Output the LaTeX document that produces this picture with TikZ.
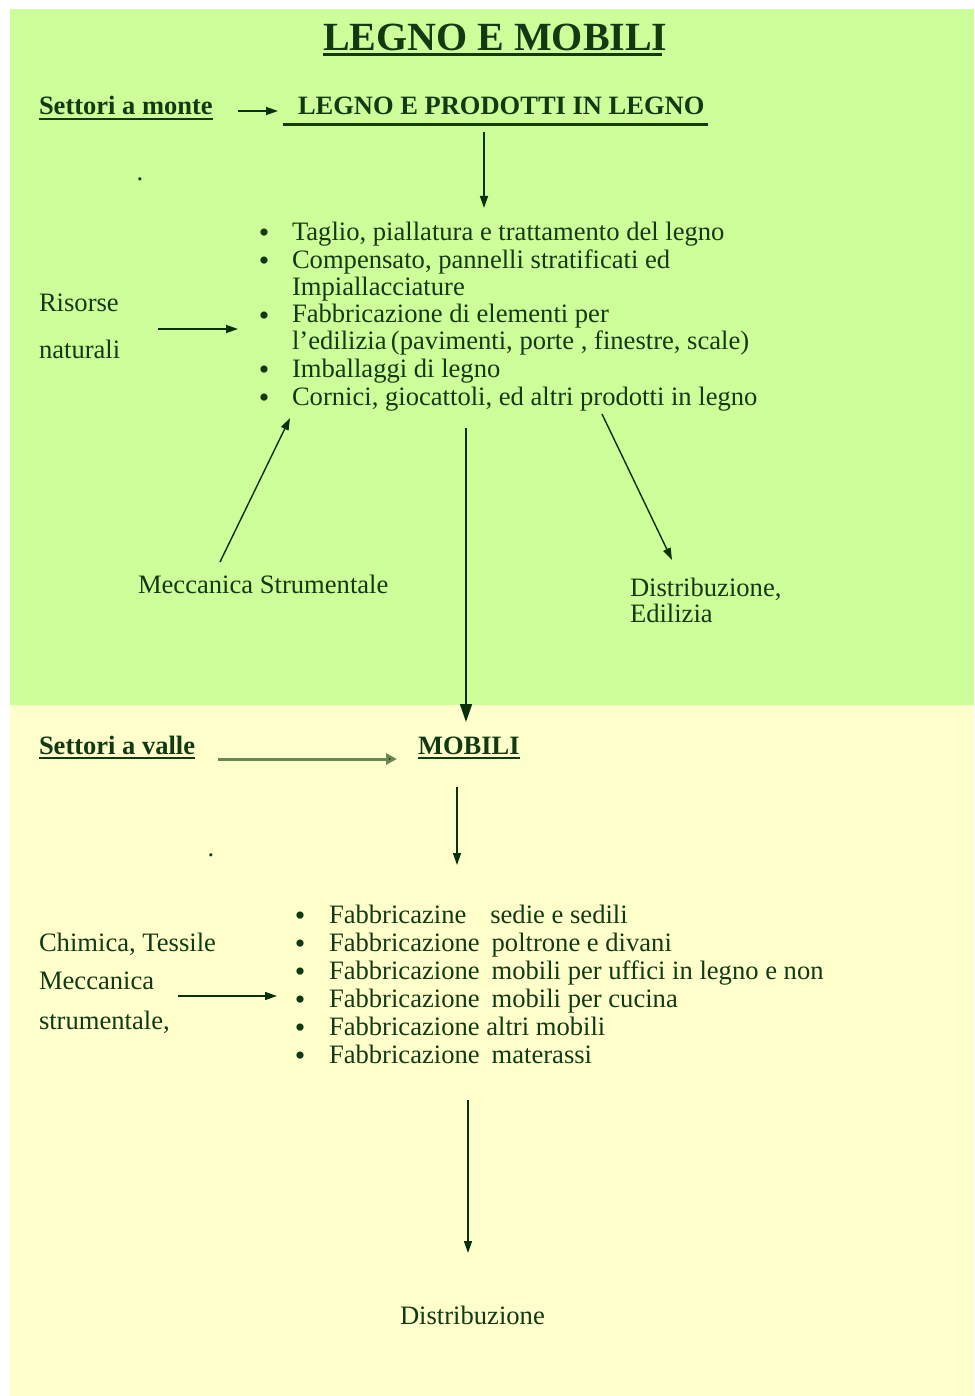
\documentclass[tikz,border=0pt]{standalone}
\usepackage{fontspec}
\setmainfont{Liberation Serif}
\usetikzlibrary{arrows.meta}
\definecolor{bgtop}{RGB}{204,255,153}
\definecolor{bgbot}{RGB}{255,255,204}
\definecolor{ink}{RGB}{18,58,18}
\definecolor{arr}{RGB}{10,48,10}
\definecolor{arrlight}{RGB}{105,135,85}
\begin{document}
\begin{tikzpicture}[x=1pt,y=-1pt,
  every node/.style={inner sep=0pt,outer sep=0pt,text=ink,font=\fontsize{26.6}{27}\selectfont},
  txt/.style={anchor=base west},
  hd/.style={anchor=base west,font=\fontsize{26.5}{27}\selectfont\bfseries},
  ttl/.style={anchor=base west,font=\fontsize{40}{42}\selectfont\bfseries},
  dotmark/.style={anchor=base},
  bul/.style={anchor=base,font=\fontsize{30}{30}\selectfont},
  ul/.style={draw=ink,line width=2.2pt},
  conn/.style={draw=arr,line width=1.4pt,-{Triangle[length=12pt,width=8pt]}},
  bigconn/.style={draw=arr,line width=1.6pt,-{Triangle[length=18pt,width=12pt]}},
  lightconn/.style={draw=arrlight,line width=3pt,-{Triangle[length=11pt,width=11pt,fill=arr]}}
]
\useasboundingbox (0,0) rectangle (974,1396);
\fill[white] (0,0) rectangle (974,1396);
\fill[bgtop] (10,9) rectangle (974,705);
\fill[bgbot] (10,705) rectangle (974,1396);

% title
\node[ttl] (title) at (323,51) {LEGNO E MOBILI};
\draw[ul,line width=3pt] (323,55) -- (662,55);

% top row
\node[hd] (monte) at (39,115) {Settori a monte};
\draw[ul] (39,119) -- (monte.east |- 0,119);
\node[hd] (legno) at (298,115) {LEGNO E PRODOTTI IN LEGNO};
\draw[ul,line width=3pt] (283,125) -- (708,125);
\coordinate (a1s) at (238,111);
\coordinate (a1e) at (278,111);
\draw[conn] (a1s) -- (a1e);
\coordinate (a2s) at (484,132);
\coordinate (a2e) at (484,208);
\draw[conn] (a2s) -- (a2e);
\node[dotmark] (dot1) at (140,181) {.};

% top list
\node[txt] (l1) at (292,241) {Taglio, piallatura e trattamento del legno};
\node[txt] (l2) at (292,269) {Compensato, pannelli stratificati ed};
\node[txt] (l3) at (292,295) {Impiallacciature};
\node[txt] (l4) at (292,323) {Fabbricazione di elementi per};
\node[txt] (l5) at (292,349) {l’edilizia\,(pavimenti, porte , finestre, scale)};
\node[txt] (l6) at (292,377) {Imballaggi di legno};
\node[txt] (l7) at (292,405) {Cornici, giocattoli, ed altri prodotti in legno};
\foreach \n in {l1,l2,l4,l6,l7} {\node[bul] at ([yshift=-2pt]264,0 |- \n.base) {\textbullet};}

\node[txt] (ris1) at (39,312) {Risorse};
\node[txt] (ris2) at (39,358) {naturali};
\coordinate (a3s) at (158,329);
\coordinate (a3e) at (238,329);
\draw[conn] (a3s) -- (a3e);

\node[txt] (mecc) at (138,593) {Meccanica Strumentale};
\coordinate (a4s) at (220,562);
\coordinate (a4e) at (290,418);
\draw[conn] (a4s) -- (a4e);

\node[txt] (dist1) at (630,596) {Distribuzione,};
\node[txt] (dist2) at (630,622) {Edilizia};
\coordinate (a5s) at (602,414);
\coordinate (a5e) at (672,560);
\draw[conn] (a5s) -- (a5e);

\coordinate (a6s) at (466,428);
\coordinate (a6e) at (466,722);
\draw[bigconn] (a6s) -- (a6e);

% bottom part
\node[hd] (valle) at (39,754) {Settori a valle};
\draw[ul] (39,758) -- (valle.east |- 0,758);
\node[hd] (mobili) at (418,754) {MOBILI};
\draw[ul] (418,758) -- (mobili.east |- 0,758);
\coordinate (a7s) at (218,759);
\coordinate (a7e) at (397,759);
\draw[lightconn] (a7s) -- (a7e);
\coordinate (a8s) at (457,787);
\coordinate (a8e) at (457,865);
\draw[conn] (a8s) -- (a8e);
\node[dotmark] (dot2) at (211,856) {.};

\node[txt] (m1) at (329,923) {Fabbricazine\hspace{0.9em}sedie e sedili};
\node[txt] (m2) at (329,951) {Fabbricazione\hspace{0.45em}poltrone e divani};
\node[txt] (m3) at (329,979) {Fabbricazione\hspace{0.45em}mobili per uffici in legno e non};
\node[txt] (m4) at (329,1007) {Fabbricazione\hspace{0.45em}mobili per cucina};
\node[txt] (m5) at (329,1035) {Fabbricazione altri mobili};
\node[txt] (m6) at (329,1063) {Fabbricazione\hspace{0.45em}materassi};
\foreach \n in {m1,m2,m3,m4,m5,m6} {\node[bul] at ([yshift=-2pt]300,0 |- \n.base) {\textbullet};}

\node[txt] (chim) at (39,951) {Chimica, Tessile};
\node[txt] (mec2) at (39,989) {Meccanica};
\node[txt] (str) at (39,1029) {strumentale,};
\coordinate (a9s) at (178,996);
\coordinate (a9e) at (277,996);
\draw[conn] (a9s) -- (a9e);

\coordinate (a10s) at (468,1100);
\coordinate (a10e) at (468,1253);
\draw[conn] (a10s) -- (a10e);
\node[txt] (distb) at (400,1324) {Distribuzione};
\end{tikzpicture}
\end{document}
